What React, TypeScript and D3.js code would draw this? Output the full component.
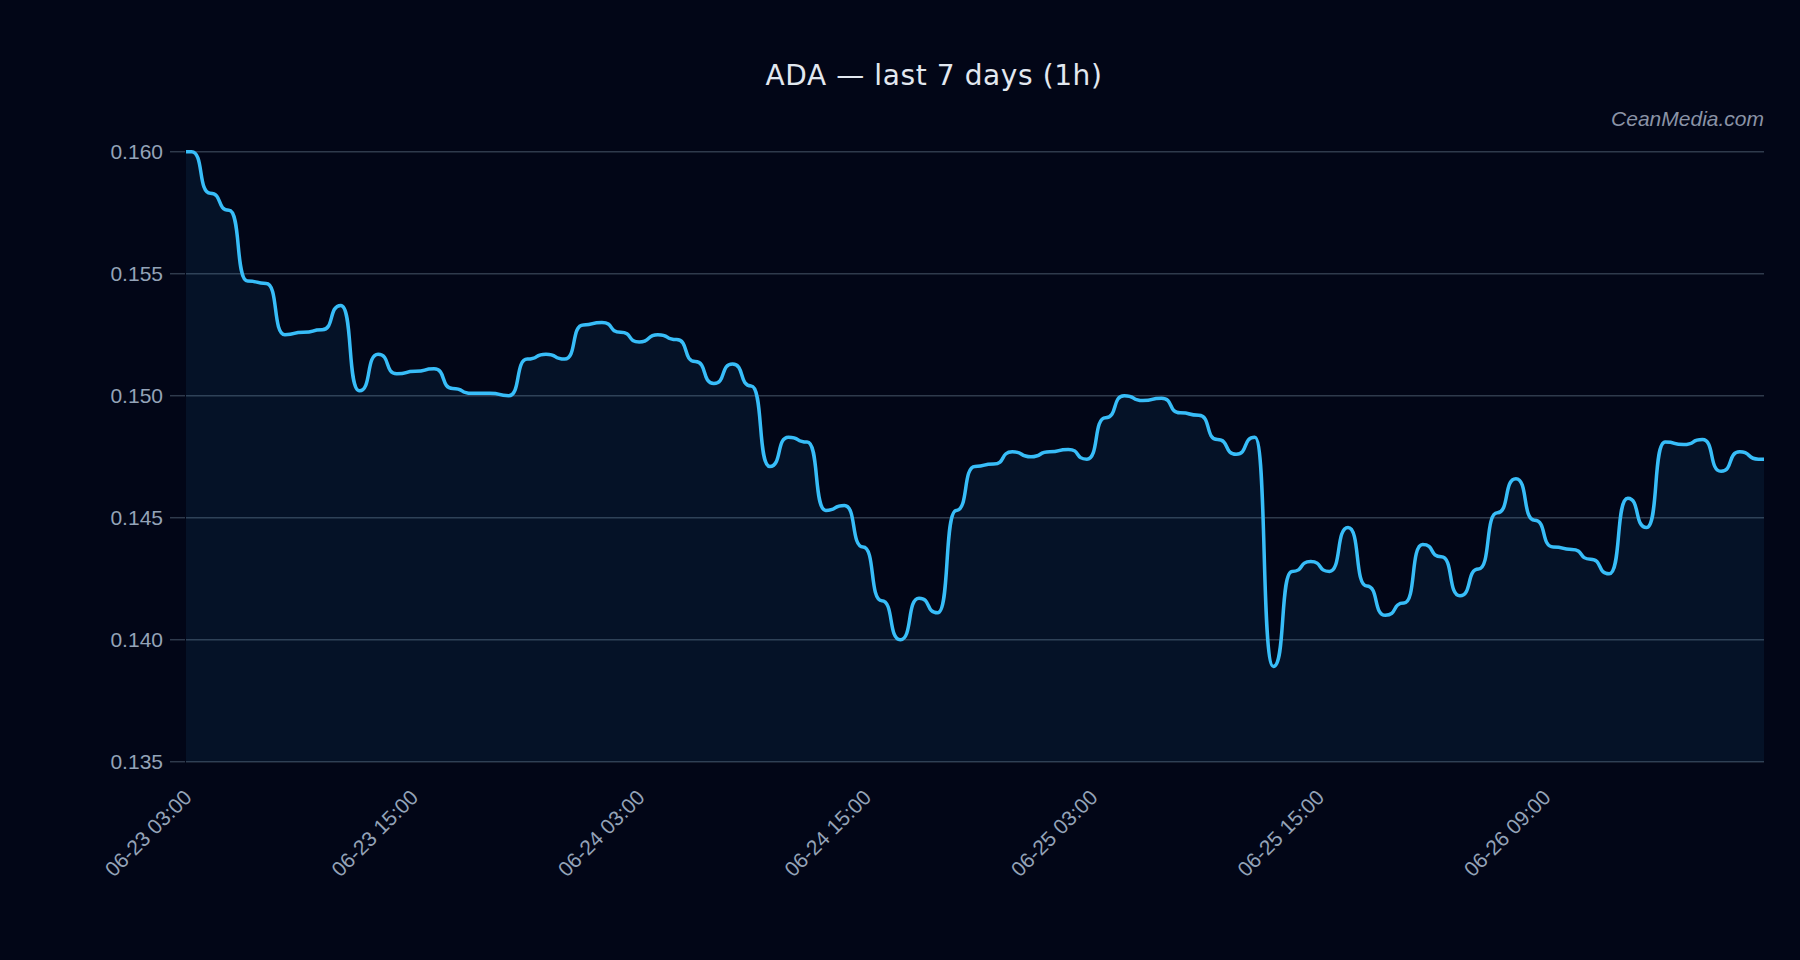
import React, { useEffect, useRef } from 'react';
import * as d3 from 'd3';

// hourly closes
const prices = [
  0.1600, 0.1583, 0.1576, 0.1547, 0.1546, 0.1525, 0.1526, 0.1527, 0.1537, 0.1502,
  0.1517, 0.1509, 0.1510, 0.1511, 0.1503, 0.1501, 0.1501, 0.1500, 0.1515, 0.1517,
  0.1515, 0.1529, 0.1530, 0.1526, 0.1522, 0.1525, 0.1523, 0.1514, 0.1505, 0.1513,
  0.1504, 0.1471, 0.1483, 0.1481, 0.1453, 0.1455, 0.1438, 0.1416, 0.1400, 0.1417,
  0.1411, 0.1453, 0.1471, 0.1472, 0.1477, 0.1475, 0.1477, 0.1478, 0.1474, 0.1491,
  0.1500, 0.1498, 0.1499, 0.1493, 0.1492, 0.1482, 0.1476, 0.1483, 0.1389, 0.1428,
  0.1432, 0.1428, 0.1446, 0.1422, 0.1410, 0.1415, 0.1439, 0.1434, 0.1418, 0.1429,
  0.1452, 0.1466, 0.1449, 0.1438, 0.1437, 0.1433, 0.1427, 0.1458, 0.1446, 0.1481,
  0.1480, 0.1482, 0.1469, 0.1477, 0.1474
];

const tickLabels = [
  '06-23 03:00', '06-23 15:00', '06-24 03:00', '06-24 15:00',
  '06-25 03:00', '06-25 15:00', '06-26 09:00'
];
const yTicks = [0.135, 0.14, 0.145, 0.15, 0.155, 0.16];

// bump-like curve with longer flats at every point (k = 0.5 is d3.curveBumpX)
const curvePlateau = (k: number) => (context: any) => {
  let x0 = NaN;
  let y0 = NaN;
  let pt = 0;
  let line = NaN;
  return {
    areaStart() { line = 0; },
    areaEnd() { line = NaN; },
    lineStart() { pt = 0; },
    lineEnd() {
      if (line || (line !== 0 && pt === 1)) context.closePath();
      line = 1 - line;
    },
    point(x: number, y: number) {
      x = +x; y = +y;
      if (pt === 0) {
        pt = 1;
        if (line) context.lineTo(x, y); else context.moveTo(x, y);
      } else {
        pt = 2;
        const dx = x - x0;
        context.bezierCurveTo(x0 + dx * k, y0, x - dx * k, y, x, y);
      }
      x0 = x; y0 = y;
    }
  };
};

const App: React.FC = () => {
  const svgRef = useRef<SVGSVGElement>(null);

  useEffect(() => {
    if (!svgRef.current) return;
    document.body.style.margin = '0';
    document.body.style.background = '#020617';

    const width = 1800;
    const height = 960;
    const margin = { top: 151.7, right: 36, bottom: 198.3, left: 186 };
    const pad = 0.3;

    const svg = d3.select(svgRef.current);
    svg.selectAll('*').remove();

    svg.append('rect')
      .attr('width', width)
      .attr('height', height)
      .attr('fill', '#020617');

    const x = d3.scaleLinear()
      .domain([-pad, prices.length - 1 + pad])
      .range([margin.left, width - margin.right]);

    const y = d3.scaleLinear()
      .domain([0.135, 0.16])
      .range([height - margin.bottom, margin.top]);

    // label positions along the bottom
    const xTick = d3.scalePoint<string>()
      .domain(tickLabels)
      .range([margin.left, 1545]);

    /* grid + y ticks */
    const grid = svg.append('g');
    grid.selectAll('line.grid')
      .data(yTicks)
      .join('line')
      .attr('class', 'grid')
      .attr('x1', margin.left)
      .attr('x2', width - margin.right)
      .attr('y1', d => y(d))
      .attr('y2', d => y(d))
      .attr('stroke', '#2f3a4c')
      .attr('stroke-width', 1.5);

    grid.selectAll('line.tick')
      .data(yTicks)
      .join('line')
      .attr('class', 'tick')
      .attr('x1', margin.left - 16)
      .attr('x2', margin.left - 1)
      .attr('y1', d => y(d))
      .attr('y2', d => y(d))
      .attr('stroke', '#2f3a4c')
      .attr('stroke-width', 1.5);

    grid.selectAll('text')
      .data(yTicks)
      .join('text')
      .attr('x', margin.left - 23)
      .attr('y', d => y(d))
      .attr('dy', '0.35em')
      .attr('text-anchor', 'end')
      .style('font-family', '"Liberation Sans", Arial, sans-serif')
      .style('font-size', '21px')
      .style('fill', '#94a3b8')
      .text(d => d3.format('.3f')(d));

    /* area + line (held flat out to the plot edges) */
    const pts: [number, number][] = [
      [x.range()[0], prices[0]],
      ...prices.map((v, i) => [x(i), v] as [number, number]),
      [x.range()[1], prices[prices.length - 1]]
    ];

    const area = d3.area<[number, number]>()
      .curve(curvePlateau(0.66) as any)
      .x(d => d[0])
      .y0(y(0.135))
      .y1(d => y(d[1]));

    const line = d3.line<[number, number]>()
      .curve(curvePlateau(0.66) as any)
      .x(d => d[0])
      .y(d => y(d[1]));

    svg.append('path')
      .datum(pts)
      .attr('d', area)
      .attr('fill', '#38bdf8')
      .attr('fill-opacity', 0.07);

    svg.append('path')
      .datum(pts)
      .attr('d', line)
      .attr('fill', 'none')
      .attr('stroke', '#38bdf8')
      .attr('stroke-width', 3.5)
      .attr('stroke-linejoin', 'round');

    /* x labels */
    svg.append('g')
      .selectAll('text')
      .data(tickLabels)
      .join('text')
      .attr('transform', d => `translate(${(xTick(d) as number) + 7},${height - margin.bottom + 37}) rotate(-45)`)
      .attr('text-anchor', 'end')
      .style('font-family', '"Liberation Sans", Arial, sans-serif')
      .style('font-size', '21px')
      .style('fill', '#94a3b8')
      .text(d => d);

    /* title + watermark */
    svg.append('text')
      .attr('x', 934)
      .attr('y', 85)
      .attr('text-anchor', 'middle')
      .style('font-family', '"DejaVu Sans", sans-serif')
      .style('font-size', '28px')
      .style('letter-spacing', '0.6px')
      .style('fill', '#e2e8f0')
      .text('ADA — last 7 days (1h)');

    svg.append('text')
      .attr('x', width - margin.right)
      .attr('y', 126)
      .attr('text-anchor', 'end')
      .style('font-family', '"Liberation Sans", Arial, sans-serif')
      .style('font-style', 'italic')
      .style('font-size', '21px')
      .style('fill', '#8a93a6')
      .text('CeanMedia.com');
  }, []);

  return (
    <svg
      ref={svgRef}
      width={1800}
      height={960}
      style={{ display: 'block', position: 'absolute', left: 0, top: 0 }}
    />
  );
};

export default App;
